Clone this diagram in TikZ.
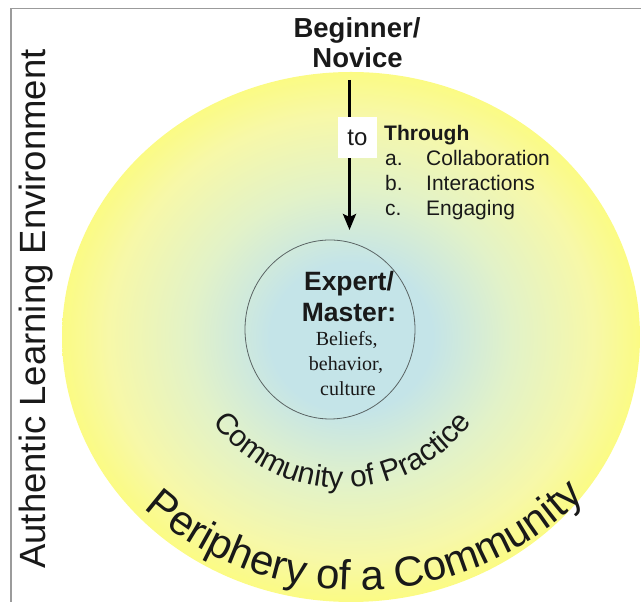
\documentclass[tikz,border=0pt]{standalone}
\usepackage{fontspec}
\setmainfont{Liberation Sans}
\newfontfamily\serifx{Liberation Serif}
\usetikzlibrary{shapes.geometric, arrows.meta, decorations.text}
\definecolor{framegray}{RGB}{155,155,155}
\definecolor{ccore}{RGB}{196,228,232}
\definecolor{cmid}{RGB}{226,242,200}
\definecolor{cyel}{RGB}{247,248,168}
\definecolor{cedge}{RGB}{251,251,132}
\definecolor{innerline}{RGB}{90,100,100}
\definecolor{txt}{RGB}{25,25,25}
\pgfdeclareradialshading{halo}{\pgfpoint{0bp}{0bp}}{color(0bp)=(ccore); color(7bp)=(ccore); color(14bp)=(cmid); color(21bp)=(cyel); color(25bp)=(cedge); color(50bp)=(cedge)}
\tikzset{
  boldlbl/.style={anchor=base, inner sep=0, text=txt, font=\bfseries\fontsize{27.5}{30}\selectfont},
  expertlbl/.style={anchor=base, inner sep=0, text=txt, font=\bfseries\fontsize{26.5}{30}\selectfont},
  seriflbl/.style={anchor=base, inner sep=0, text=txt, font=\serifx\fontsize{20}{24}\selectfont},
  itemlbl/.style={anchor=base west, inner sep=0, text=txt, font=\fontsize{21}{24}\selectfont},
  tobox/.style={fill=white, inner sep=0, minimum width=39, minimum height=41, text=txt, font=\fontsize{24}{24}\selectfont},
  curvedtxt/.style={decorate, decoration={text along path, text align=center, text color=txt, text={#1}}}
}
\begin{document}
\begin{tikzpicture}[x=1pt,y=1pt]
\useasboundingbox (0,0) rectangle (641,602);
% big shaded community disc
\begin{scope}
  \clip (0,0) rectangle (641,602);
  \shade[shading=halo] (351,265) ellipse [x radius=289, y radius=265];
\end{scope}
% frame
\draw[framegray, line width=1.6] (11,0) -- (11,593.3) -- (641,593.3);
% inner circle
\node[ellipse, draw=innerline, line width=0.8, minimum width=170, minimum height=179, inner sep=0] (expert) at (330,272.5) {};
% left vertical title
\node[rotate=90, anchor=base, inner sep=0, text=txt, font=\fontsize{36.5}{36}\selectfont] (ale) at (45,293) {Authentic Learning Environment};
% beginner
\node[boldlbl] (beg) at (357,564) {Beginner/};
\node[boldlbl] (nov) at (357.5,534) {Novice};
% arrow
\coordinate (arrS) at (349.5,522);
\coordinate (arrE) at (349.5,372);
\draw[-{Stealth[length=16,width=13,inset=3]}, line width=3, black] (arrS) -- (arrE);
\node[tobox] (to) at (357.5,464.5) {to};
% through list
\node[itemlbl, font=\bfseries\fontsize{21}{24}\selectfont] (thr) at (384,461.5) {Through};
\node[itemlbl] (la) at (385,436.5) {a.};
\node[itemlbl] (ta) at (426,436.5) {Collaboration};
\node[itemlbl] (lb) at (385,411.5) {b.};
\node[itemlbl] (tb) at (426,411.5) {Interactions};
\node[itemlbl] (lc) at (385,386.5) {c.};
\node[itemlbl] (tc) at (426,386.5) {Engaging};
% expert text
\node[expertlbl] (ex1) at (349,311) {Expert/};
\node[expertlbl] (ex2) at (349,280) {Master:};
\node[seriflbl] (b1) at (346.7,256) {Beliefs,};
\node[seriflbl] (b2) at (346,231) {behavior,};
\node[seriflbl] (b3) at (348,206) {culture};
% curved labels
\path[curvedtxt={|\fontsize{30}{30}\selectfont|Community of Practice}] (342,274) ++(180:160) arc[start angle=180, end angle=360, radius=160];
\path[curvedtxt={|\fontsize{42}{42}\selectfont|Periphery of a Community}] (358,334) ++(181.5:322) arc[start angle=181.5, end angle=361.5, radius=322];
\end{tikzpicture}
\end{document}
